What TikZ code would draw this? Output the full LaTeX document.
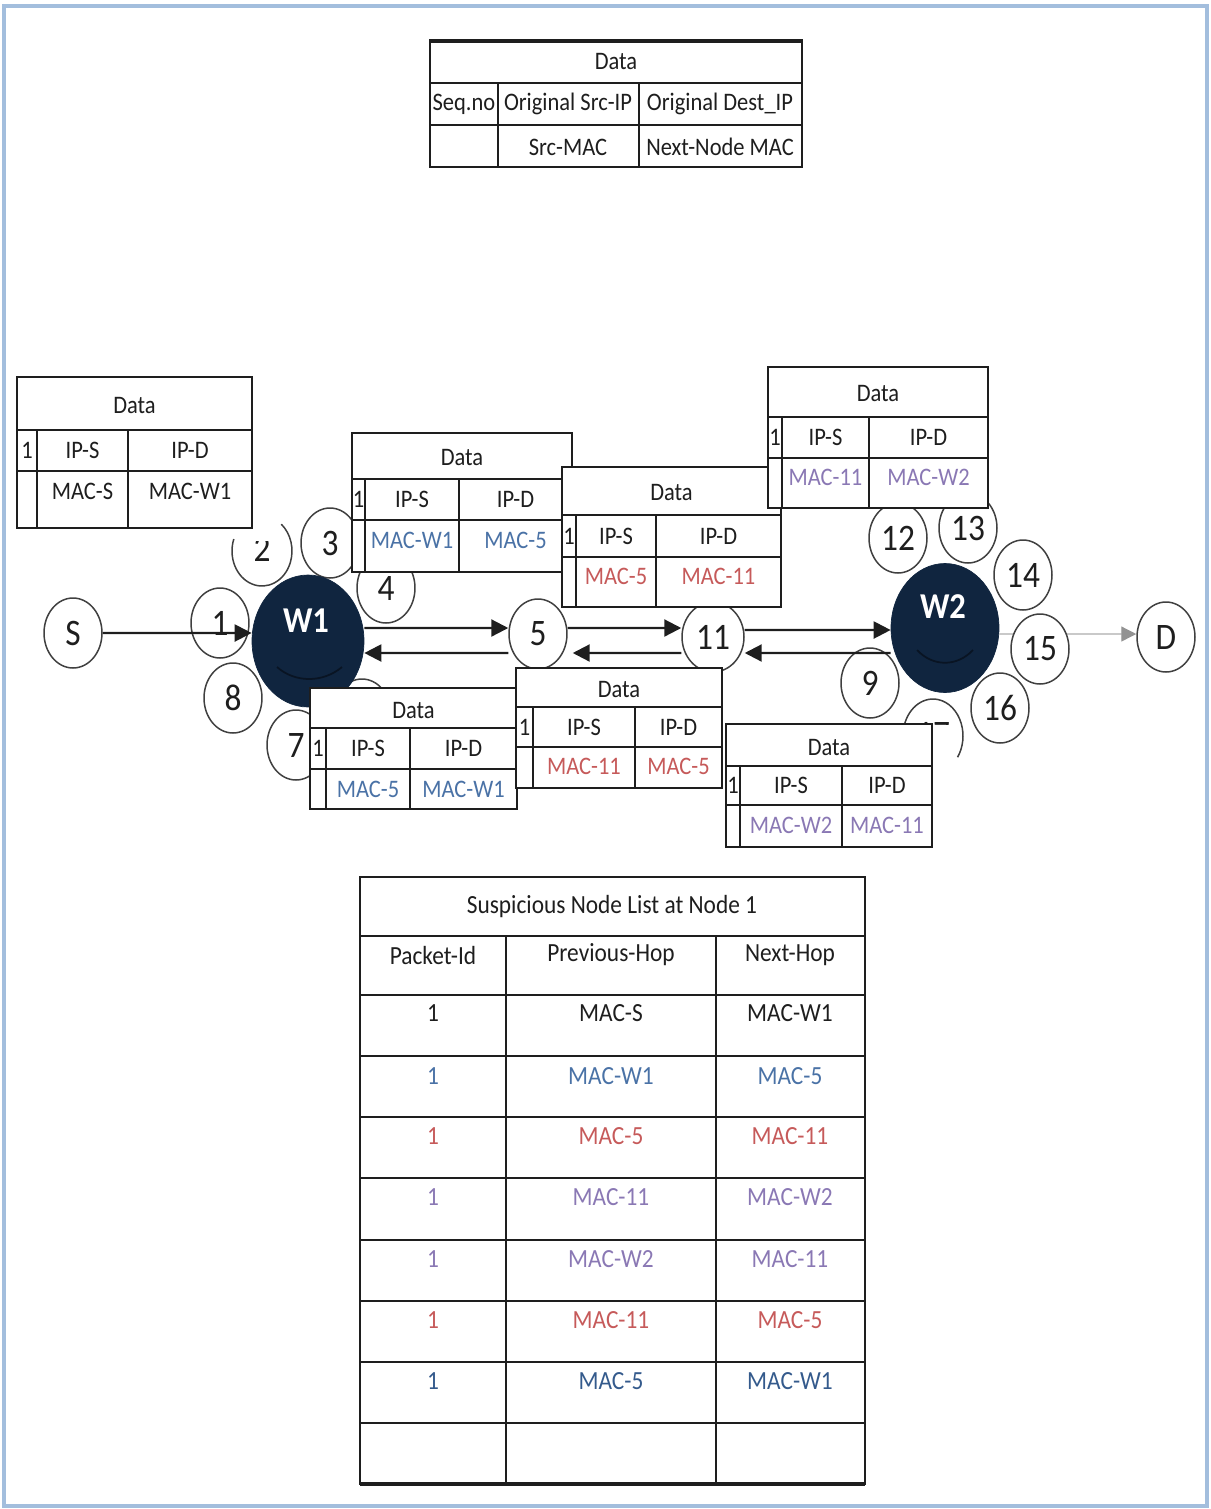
\documentclass[tikz,border=0pt]{standalone}
\usepackage{fontspec}
\setmainfont{Carlito}
\usepackage{graphicx}
\usetikzlibrary{shapes.geometric,arrows.meta,calc}
\definecolor{navy}{HTML}{10253F}
\definecolor{frameblue}{HTML}{A3BEDD}
\definecolor{tblue}{HTML}{4A72A6}
\definecolor{tblueD}{HTML}{345A8C}
\definecolor{tred}{HTML}{C65A5A}
\definecolor{tpurp}{HTML}{8A78B4}
\definecolor{ink}{HTML}{1E1E1E}
\newcommand\vs[1]{\scalebox{1}[1.12]{#1}}
\newcommand\setcols[4]{\def\cxA{#1}\def\cxB{#2}\def\cxC{#3}\def\cxD{#4}}
\newcommand\setrows[4]{\def\cyA{#1}\def\cyB{#2}\def\cyC{#3}\def\cyD{#4}}
\newcommand\dtab[5]{%
  \fill[white] (\cxA,\cyA) rectangle (\cxD,\cyD);
  \draw[tab] (\cxA,\cyA) rectangle (\cxD,\cyD);
  \draw[tab] (\cxA,\cyB) -- (\cxD,\cyB) (\cxA,\cyC) -- (\cxD,\cyC)
             (\cxB,\cyB) -- (\cxB,\cyD) (\cxC,\cyB) -- (\cxC,\cyD);
  \node[tt] (#1h) at ({(\cxA+\cxD)/2},{(\cyA+\cyB)/2+2}) {\vs{Data}};
  \node[tt] (#1n) at ({(\cxA+\cxB)/2},{(\cyB+\cyC)/2}) {\vs{1}};
  \node[tt] (#1s) at ({(\cxB+\cxC)/2},{(\cyB+\cyC)/2}) {\vs{IP-S}};
  \node[tt] (#1d) at ({(\cxC+\cxD)/2},{(\cyB+\cyC)/2}) {\vs{IP-D}};
  \node[tt,text=#4] (#1ms) at ({(\cxB+\cxC)/2},#5) {\vs{#2}};
  \node[tt,text=#4] (#1md) at ({(\cxC+\cxD)/2},#5) {\vs{#3}};
}
\begin{document}
\begin{tikzpicture}[x=0.02cm,y=-0.02cm,
  tab/.style={draw=ink,line width=0.035cm},
  tt/.style={inner sep=0pt,text=ink,font=\fontsize{12.8}{14}\selectfont},
  bt/.style={inner sep=0pt,text=ink,font=\fontsize{13.3}{15}\selectfont},
  numc/.style={ellipse,draw=ink!85,line width=0.03cm,fill=white,minimum width=1.16cm,minimum height=1.4cm,inner sep=0pt,font=\fontsize{19}{20}\selectfont,text=ink},
  wnode/.style={ellipse,fill=navy,draw=navy,minimum width=2.24cm,minimum height=2.64cm,inner sep=0pt},
  wlab/.style={inner sep=0pt,text=white,font=\bfseries\fontsize{18.5}{20}\selectfont},
  arr/.style={draw=ink,line width=0.045cm,-{Triangle[length=0.34cm,width=0.34cm]}},
  garr/.style={draw=gray!65,line width=0.025cm,-{Triangle[length=0.3cm,width=0.3cm,color=gray!85,fill=gray!85]}},
  circarc/.style={draw=ink!85,line width=0.03cm}
]
\useasboundingbox (0,0) rectangle (1211,1509);
\draw[frameblue,line width=0.08cm] (4,6) rectangle (1207,1506);

% ---------- top legend table
\draw[tab] (430,40) rectangle (802,167);
\draw[ink,line width=0.07cm] (430,41) -- (802,41);
\draw[tab] (430,83) -- (802,83) (430,125) -- (802,125) (498,83) -- (498,167) (639,83) -- (639,167);
\node[tt] (Lh) at (616,62) {\vs{Data}};
\node[tt] (Lseq) at (464,104) {\vs{Seq.no}};
\node[tt] (Lsip) at (568,104) {\vs{Original Src-IP}};
\node[tt] (Ldip) at (720,104) {\vs{Original Dest\_IP}};
\node[tt] (Lsmac) at (568,147) {\vs{Src-MAC}};
\node[tt] (Lnmac) at (720,147) {\vs{Next-Node MAC}};

% ---------- small circles
\node[numc] (S) at (73,633) {\vs{S}};
\node[numc] (c1) at (220,623) {\vs{1}};
\node[numc,draw=none,fill=none] (c2) at (262,551) {};
\draw[circarc] ([shift={(160:0.6cm and 0.7cm)}]c2.center) arc[start angle=160,end angle=410,x radius=0.6cm,y radius=0.7cm];
\begin{scope}
  \clip (230,541) rectangle (295,590);
  \node[inner sep=0pt,font=\fontsize{19}{20}\selectfont,text=ink] (c2t) at (262,549) {\vs{2}};
\end{scope}
\node[numc] (c3) at (330,543) {\vs{3}};
\node[numc] (c4) at (386,588) {\vs{4}};
\node[numc] (c6) at (362,714) {};
\node[numc] (c7) at (296,745) {\vs{7}};
\node[numc] (c8) at (233,698) {\vs{8}};
\node[numc] (c5) at (538,634) {\vs{5}};
\node[numc,minimum width=1.24cm] (c11) at (713,637) {\vs{11}};
\node[numc] (c9) at (870,683) {\vs{9}};
\node[numc] (c12) at (898,538) {\vs{12}};
\node[numc] (c13) at (968,528) {\vs{13}};
\node[numc] (c14) at (1023,575) {\vs{14}};
\node[numc] (c16) at (1000,708) {\vs{16}};
\node[numc,draw=none,fill=none] (c17) at (933,736) {};
\draw[circarc] ([shift={(170:0.6cm and 0.74cm)}]c17.center) arc[start angle=170,end angle=-35,x radius=0.6cm,y radius=0.74cm];
\begin{scope}
  \clip (900,700) rectangle (960,724);
  \node[inner sep=0pt,font=\fontsize{19}{20}\selectfont,text=ink] (c17t) at (933,734) {\vs{17}};
\end{scope}
\node[numc] (D) at (1166,637) {\vs{D}};

% ---------- W nodes
\node[wnode] (W1) at (308,641) {};
\node[wlab] (W1l) at (306,621) {\vs{W1}};
\draw[navy!55!black,line width=0.035cm] (277,667) .. controls (295,683) and (323,683) .. (342,667);
\node[wnode,minimum width=2.16cm,minimum height=2.58cm] (W2) at (945,628) {};
\node[wlab] (W2l) at (943,607) {\vs{W2}};
\draw[navy!55!black,line width=0.035cm] (917,650) .. controls (933,667) and (957,667) .. (973,650);

% ---------- connectors
\draw[garr] ([yshift=-0.12cm]W2.east) -- ([yshift=0.06cm]D.west);
\node[numc] (c15) at (1040,649) {\vs{15}};
\draw[arr] (S.east) -- ([yshift=0.16cm]W1.west);
\draw[arr] ([yshift=0.26cm]W1.east) -- ([yshift=0.12cm]c5.west);
\draw[arr] ([yshift=-0.38cm]c5.west) -- ([yshift=-0.24cm]W1.east);
\draw[arr] ([yshift=0.12cm]c5.east) -- ([yshift=0.18cm]c11.west);
\draw[arr] ([yshift=-0.32cm]c11.west) -- ([xshift=0.1cm,yshift=-0.38cm]c5.east);
\draw[arr] ([yshift=0.14cm]c11.east) -- ([yshift=-0.04cm]W2.west);
\draw[arr] ([yshift=-0.5cm]W2.west) -- ([yshift=-0.32cm]c11.east);

% ---------- packet tables
\setcols{17}{37}{128}{252}\setrows{377}{430}{471}{528}
\dtab{T1}{MAC-S}{MAC-W1}{ink}{491}
\setcols{352}{365}{459}{572}\setrows{433}{479}{520}{572}
\dtab{T2}{MAC-W1}{MAC-5}{tblue}{540}
\setcols{562}{576}{656}{781}\setrows{467}{515}{557}{607}
\dtab{T3}{MAC-5}{MAC-11}{tred}{576}
\setcols{768}{782}{869}{988}\setrows{367}{417}{458}{508}
\dtab{T4}{MAC-11}{MAC-W2}{tpurp}{477}
\setcols{310}{326}{410}{517}\setrows{688}{728}{769}{809}
\dtab{T5}{MAC-5}{MAC-W1}{tblue}{789}
\setcols{516}{533}{635}{722}\setrows{668}{707}{747}{788}
\dtab{T6}{MAC-11}{MAC-5}{tred}{766}
\setcols{726}{740}{842}{932}\setrows{724}{766}{805}{847}
\dtab{T7}{MAC-W2}{MAC-11}{tpurp}{825}

% ---------- suspicious node list
\draw[tab] (360,877) rectangle (865,1484);
\draw[ink,line width=0.07cm] (360,1484) -- (865,1484);
\foreach \yy in {936,995,1056,1117,1178,1240,1301,1362,1423}
  \draw[tab] (360,\yy) -- (865,\yy);
\draw[tab] (506,936) -- (506,1484) (716,936) -- (716,1484);
\node[bt] (Bt) at (612,907) {\vs{Suspicious Node List at Node 1}};
\node[bt] (Bh1) at (433,955) {\vs{Packet-Id}};
\node[bt] (Bh2) at (611,955) {\vs{Previous-Hop}};
\node[bt] (Bh3) at (790,955) {\vs{Next-Hop}};
\foreach \yy/\pa/\pb/\cc [count=\i] in {1013/MAC-S/MAC-W1/ink, 1076/MAC-W1/MAC-5/tblue, 1136/MAC-5/MAC-11/tred, 1197/MAC-11/MAC-W2/tpurp, 1259/MAC-W2/MAC-11/tpurp, 1320/MAC-11/MAC-5/tred, 1381/MAC-5/MAC-W1/tblueD}{
  \node[bt,text=\cc] (Br\i a) at (433,\yy) {\vs{1}};
  \node[bt,text=\cc] (Br\i b) at (611,\yy) {\vs{\pa}};
  \node[bt,text=\cc] (Br\i c) at (790,\yy) {\vs{\pb}};
}
\end{tikzpicture}
\end{document}
